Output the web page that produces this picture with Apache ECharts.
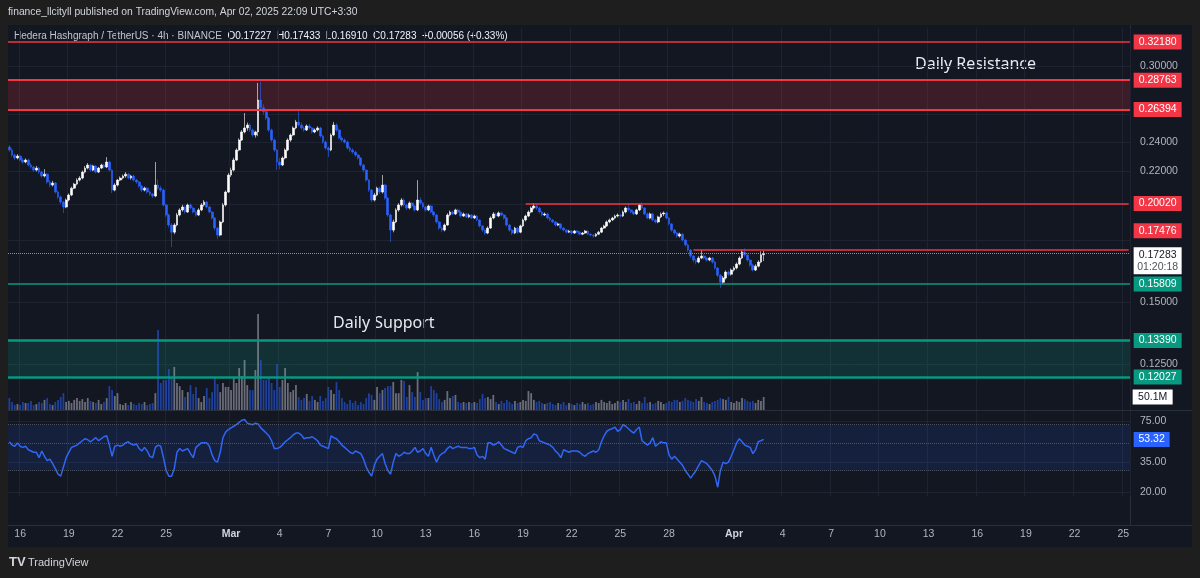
<!DOCTYPE html>
<html>
<head>
<meta charset="utf-8">
<script src="https://cdn.jsdelivr.net/npm/echarts@6.0.0/dist/echarts.min.js"></script>
<style>
  html, body { margin: 0; padding: 0; background: #1e1e1e; }
  #panel { position: absolute; left: 8px; top: 25px; width: 1184px; height: 522px; background: #131722; }
  #chart { position: absolute; left: 0; top: 0; width: 1200px; height: 578px; }
</style>
</head>
<body>
<div id="panel"></div>
<div id="chart"></div>
<script>
// HBAR/USDT 4h candles, Feb 15 07:30 -> Apr 2 19:30 (UTC+3:30)
const opens = [
  0.2364,0.2343,0.2309,0.2289,0.2302,0.2275,0.2262,0.2275,0.2242,0.2229,
  0.2209,0.2222,0.2196,0.2171,0.2183,0.2133,0.2114,0.2127,0.2071,0.2041,
  0.2011,0.1982,0.2023,0.2053,0.2095,0.2120,0.2145,0.2158,0.2196,0.2222,
  0.2242,0.2209,0.2235,0.2196,0.2222,0.2242,0.2229,0.2262,0.2209,0.2083,
  0.2114,0.2145,0.2158,0.2171,0.2183,0.2158,0.2171,0.2145,0.2133,0.2108,
  0.2083,0.2095,0.2071,0.2059,0.2047,0.2114,0.2095,0.2083,0.1994,0.1936,
  0.1880,0.1841,0.1880,0.1936,0.1965,0.1982,0.1953,0.1994,0.1976,0.1953,
  0.1936,0.1965,0.1994,0.2011,0.1982,0.1953,0.1919,0.1863,0.1825,0.1897,
  0.1994,0.2071,0.2177,0.2209,0.2275,0.2343,0.2413,0.2471,0.2500,0.2522,
  0.2485,0.2449,0.2471,0.2714,0.2654,0.2623,0.2575,0.2485,0.2413,0.2343,
  0.2262,0.2242,0.2289,0.2343,0.2413,0.2449,0.2500,0.2544,0.2522,0.2500,
  0.2485,0.2515,0.2500,0.2471,0.2485,0.2500,0.2442,0.2399,0.2357,0.2343,
  0.2449,0.2522,0.2485,0.2427,0.2413,0.2399,0.2357,0.2343,0.2329,0.2309,
  0.2289,0.2242,0.2209,0.2145,0.2083,0.2023,0.2053,0.2095,0.2071,0.2114,
  0.2035,0.1936,0.1852,0.1897,0.1965,0.1994,0.2023,0.1994,0.1976,0.2005,
  0.1988,0.1965,0.2023,0.2005,0.1982,0.1965,0.1988,0.1953,0.1936,0.1897,
  0.1863,0.1852,0.1880,0.1936,0.1953,0.1942,0.1965,0.1953,0.1930,0.1942,
  0.1925,0.1936,0.1919,0.1930,0.1908,0.1875,0.1852,0.1836,0.1863,0.1919,
  0.1942,0.1930,0.1948,0.1936,0.1919,0.1880,0.1852,0.1836,0.1863,0.1841,
  0.1875,0.1908,0.1930,0.1953,0.1976,0.1988,0.1976,0.1953,0.1936,0.1942,
  0.1919,0.1908,0.1897,0.1880,0.1886,0.1863,0.1852,0.1841,0.1847,0.1836,
  0.1847,0.1841,0.1830,0.1836,0.1847,0.1830,0.1825,0.1820,0.1830,0.1841,
  0.1863,0.1875,0.1897,0.1908,0.1919,0.1930,0.1936,0.1930,0.1953,0.1976,
  0.1965,0.1953,0.1942,0.1965,0.1994,0.1976,0.1942,0.1919,0.1942,0.1908,
  0.1897,0.1925,0.1942,0.1948,0.1919,0.1886,0.1852,0.1836,0.1820,0.1830,
  0.1799,0.1773,0.1747,0.1716,0.1696,0.1686,0.1706,0.1716,0.1706,0.1696,
  0.1706,0.1686,0.1657,0.1622,0.1589,0.1609,0.1637,0.1627,0.1647,0.1657,
  0.1676,0.1706,0.1737,0.1721,0.1696,0.1671,0.1647,0.1666,0.1686,0.1723
];
const closes = [
  0.2343,0.2309,0.2289,0.2302,0.2275,0.2262,0.2275,0.2242,0.2229,0.2209,
  0.2222,0.2196,0.2171,0.2183,0.2133,0.2114,0.2127,0.2071,0.2041,0.2011,
  0.1982,0.2023,0.2053,0.2095,0.2120,0.2145,0.2158,0.2196,0.2222,0.2242,
  0.2209,0.2235,0.2196,0.2222,0.2242,0.2229,0.2262,0.2209,0.2083,0.2114,
  0.2145,0.2158,0.2171,0.2183,0.2158,0.2171,0.2145,0.2133,0.2108,0.2083,
  0.2095,0.2071,0.2059,0.2047,0.2114,0.2095,0.2083,0.1994,0.1936,0.1880,
  0.1841,0.1880,0.1936,0.1965,0.1982,0.1953,0.1994,0.1976,0.1953,0.1936,
  0.1965,0.1994,0.2011,0.1982,0.1953,0.1919,0.1863,0.1825,0.1897,0.1994,
  0.2071,0.2177,0.2209,0.2275,0.2343,0.2413,0.2471,0.2500,0.2522,0.2485,
  0.2449,0.2471,0.2714,0.2654,0.2623,0.2575,0.2485,0.2413,0.2343,0.2262,
  0.2242,0.2289,0.2343,0.2413,0.2449,0.2500,0.2544,0.2522,0.2500,0.2485,
  0.2515,0.2500,0.2471,0.2485,0.2500,0.2442,0.2399,0.2357,0.2343,0.2449,
  0.2522,0.2485,0.2427,0.2413,0.2399,0.2357,0.2343,0.2329,0.2309,0.2289,
  0.2242,0.2209,0.2145,0.2083,0.2023,0.2053,0.2095,0.2071,0.2114,0.2035,
  0.1936,0.1852,0.1897,0.1965,0.1994,0.2023,0.1994,0.1976,0.2005,0.1988,
  0.1965,0.2023,0.2005,0.1982,0.1965,0.1988,0.1953,0.1936,0.1897,0.1863,
  0.1852,0.1880,0.1936,0.1953,0.1942,0.1965,0.1953,0.1930,0.1942,0.1925,
  0.1936,0.1919,0.1930,0.1908,0.1875,0.1852,0.1836,0.1863,0.1919,0.1942,
  0.1930,0.1948,0.1936,0.1919,0.1880,0.1852,0.1836,0.1863,0.1841,0.1875,
  0.1908,0.1930,0.1953,0.1976,0.1988,0.1976,0.1953,0.1936,0.1942,0.1919,
  0.1908,0.1897,0.1880,0.1886,0.1863,0.1852,0.1841,0.1847,0.1836,0.1847,
  0.1841,0.1830,0.1836,0.1847,0.1830,0.1825,0.1820,0.1830,0.1841,0.1863,
  0.1875,0.1897,0.1908,0.1919,0.1930,0.1936,0.1930,0.1953,0.1976,0.1965,
  0.1953,0.1942,0.1965,0.1994,0.1976,0.1942,0.1919,0.1942,0.1908,0.1897,
  0.1925,0.1942,0.1948,0.1919,0.1886,0.1852,0.1836,0.1820,0.1830,0.1799,
  0.1773,0.1747,0.1716,0.1696,0.1686,0.1706,0.1716,0.1706,0.1696,0.1706,
  0.1686,0.1657,0.1622,0.1589,0.1609,0.1637,0.1627,0.1647,0.1657,0.1676,
  0.1706,0.1737,0.1721,0.1696,0.1671,0.1647,0.1666,0.1686,0.1723,0.17283
];
const lows = [
  0.2330,0.2298,0.2276,0.2280,0.2266,0.2250,0.2254,0.2233,0.2218,0.2198,
  0.2200,0.2185,0.2160,0.2162,0.2122,0.2100,0.2105,0.2062,0.2030,0.1998,
  0.1947,0.1975,0.2015,0.2046,0.2088,0.2112,0.2136,0.2150,0.2188,0.2214,
  0.2200,0.2202,0.2188,0.2190,0.2215,0.2220,0.2222,0.2200,0.2065,0.2075,
  0.2105,0.2138,0.2150,0.2160,0.2150,0.2148,0.2136,0.2122,0.2098,0.2070,
  0.2075,0.2062,0.2048,0.2035,0.2040,0.2085,0.2070,0.1985,0.1925,0.1866,
  0.1762,0.1830,0.1872,0.1928,0.1955,0.1945,0.1948,0.1968,0.1945,0.1926,
  0.1930,0.1958,0.1985,0.1975,0.1945,0.1910,0.1850,0.1805,0.1818,0.1890,
  0.1985,0.2065,0.2165,0.2200,0.2268,0.2335,0.2405,0.2460,0.2480,0.2470,
  0.2436,0.2430,0.2440,0.2630,0.2600,0.2560,0.2470,0.2400,0.2330,0.2209,
  0.2215,0.2235,0.2280,0.2335,0.2400,0.2440,0.2490,0.2510,0.2488,0.2472,
  0.2478,0.2490,0.2460,0.2462,0.2475,0.2430,0.2388,0.2345,0.2295,0.2335,
  0.2440,0.2470,0.2418,0.2400,0.2388,0.2345,0.2330,0.2318,0.2296,0.2278,
  0.2232,0.2196,0.2135,0.2072,0.2010,0.2015,0.2045,0.2060,0.2062,0.2025,
  0.1925,0.1788,0.1840,0.1890,0.1955,0.1985,0.1985,0.1965,0.1968,0.1978,
  0.1955,0.1958,0.1995,0.1972,0.1955,0.1958,0.1945,0.1925,0.1888,0.1852,
  0.1840,0.1845,0.1875,0.1928,0.1935,0.1936,0.1946,0.1922,0.1925,0.1918,
  0.1918,0.1912,0.1913,0.1900,0.1866,0.1842,0.1826,0.1830,0.1858,0.1912,
  0.1922,0.1924,0.1928,0.1910,0.1872,0.1843,0.1826,0.1830,0.1832,0.1835,
  0.1868,0.1900,0.1924,0.1946,0.1968,0.1965,0.1945,0.1928,0.1930,0.1912,
  0.1900,0.1890,0.1872,0.1874,0.1855,0.1845,0.1834,0.1836,0.1829,0.1831,
  0.1835,0.1824,0.1825,0.1831,0.1824,0.1818,0.1810,0.1815,0.1825,0.1836,
  0.1858,0.1870,0.1890,0.1902,0.1912,0.1922,0.1922,0.1925,0.1946,0.1955,
  0.1945,0.1935,0.1936,0.1958,0.1968,0.1935,0.1912,0.1912,0.1900,0.1889,
  0.1890,0.1918,0.1930,0.1912,0.1878,0.1843,0.1826,0.1810,0.1812,0.1790,
  0.1764,0.1738,0.1705,0.1684,0.1675,0.1680,0.1700,0.1698,0.1688,0.1690,
  0.1678,0.1650,0.1612,0.1562,0.1580,0.1602,0.1618,0.1620,0.1640,0.1650,
  0.1670,0.1700,0.1712,0.1688,0.1662,0.1640,0.1642,0.1660,0.1680,0.16910
];
const highs = [
  0.2378,0.2356,0.2318,0.2315,0.2311,0.2290,0.2286,0.2284,0.2255,0.2238,
  0.2236,0.2230,0.2205,0.2215,0.2190,0.2145,0.2140,0.2133,0.2080,0.2050,
  0.2018,0.2032,0.2062,0.2104,0.2128,0.2156,0.2170,0.2206,0.2236,0.2255,
  0.2250,0.2244,0.2242,0.2230,0.2251,0.2250,0.2295,0.2270,0.2215,0.2125,
  0.2152,0.2168,0.2180,0.2196,0.2190,0.2178,0.2180,0.2154,0.2140,0.2115,
  0.2104,0.2102,0.2080,0.2066,0.2262,0.2150,0.2110,0.2092,0.2002,0.1945,
  0.1890,0.1890,0.1948,0.1975,0.1995,0.1990,0.2002,0.2003,0.1985,0.1962,
  0.1975,0.2005,0.2023,0.2018,0.1990,0.1960,0.1925,0.1870,0.1905,0.2005,
  0.2080,0.2190,0.2225,0.2290,0.2355,0.2425,0.2485,0.2612,0.2540,0.2535,
  0.2495,0.2480,0.2853,0.2865,0.2680,0.2640,0.2585,0.2495,0.2425,0.2350,
  0.2290,0.2300,0.2355,0.2425,0.2460,0.2512,0.2560,0.2639,0.2540,0.2512,
  0.2526,0.2530,0.2508,0.2496,0.2512,0.2508,0.2450,0.2410,0.2368,0.2460,
  0.2545,0.2535,0.2495,0.2440,0.2425,0.2408,0.2370,0.2355,0.2338,0.2318,
  0.2296,0.2250,0.2215,0.2152,0.2090,0.2066,0.2104,0.2105,0.2177,0.2120,
  0.2040,0.1945,0.1910,0.1975,0.2005,0.2035,0.2032,0.2002,0.2015,0.2012,
  0.1995,0.2145,0.2040,0.2012,0.1990,0.1996,0.1995,0.1960,0.1942,0.1905,
  0.1872,0.1888,0.1946,0.1962,0.1960,0.1972,0.1972,0.1958,0.1950,0.1948,
  0.1944,0.1942,0.1938,0.1935,0.1912,0.1880,0.1860,0.1872,0.1928,0.1952,
  0.1950,0.1956,0.1955,0.1942,0.1925,0.1886,0.1858,0.1870,0.1868,0.1882,
  0.1915,0.1938,0.1962,0.1985,0.2005,0.1998,0.1982,0.1960,0.1950,0.1948,
  0.1925,0.1914,0.1903,0.1893,0.1890,0.1868,0.1858,0.1853,0.1852,0.1853,
  0.1852,0.1846,0.1842,0.1853,0.1851,0.1836,0.1832,0.1836,0.1848,0.1870,
  0.1882,0.1905,0.1916,0.1926,0.1938,0.1945,0.1942,0.1962,0.1985,0.2004,
  0.1972,0.1960,0.1972,0.2000,0.2010,0.1982,0.1950,0.1950,0.1948,0.1915,
  0.1932,0.1950,0.1956,0.1955,0.1925,0.1892,0.1858,0.1842,0.1838,0.1836,
  0.1805,0.1780,0.1752,0.1722,0.1702,0.1715,0.1747,0.1724,0.1712,0.1712,
  0.1712,0.1692,0.1662,0.1628,0.1618,0.1645,0.1645,0.1655,0.1665,0.1684,
  0.1715,0.1748,0.1755,0.1728,0.1702,0.1678,0.1675,0.1695,0.1740,0.17433
];
// volume in millions
const volumes = [
  46,31,19,23,19,31,27,27,35,19, 23,31,27,39,46,23,19,31,39,50,
  65,31,35,27,39,46,35,42,31,46, 35,31,27,39,23,31,46,92,77,54,
  65,23,19,27,19,31,23,19,27,23, 31,19,23,27,65,308,104,116,116,158,
  127,166,104,92,77,50,69,96,62,89, 46,31,54,85,46,69,123,100,69,104,
  89,89,77,123,104,162,131,193,96,77, 77,154,370,193,116,116,123,104,77,177,
  89,116,162,104,69,77,96,50,39,46, 62,35,54,39,31,54,35,46,89,77,
  62,108,77,46,31,23,39,27,35,19, 31,23,46,65,58,39,89,65,77,85,
  92,92,108,65,65,116,112,50,96,69, 50,146,69,39,46,46,92,77,65,42,
  31,39,73,46,54,58,31,27,31,27, 31,27,31,27,42,62,46,50,42,58,
  31,23,35,27,39,31,23,35,27,31, 39,35,73,65,39,31,35,27,23,27,
  31,23,19,27,23,31,19,27,23,19, 27,23,31,23,27,19,23,31,27,39,
  31,27,35,23,27,35,31,39,31,42, 27,31,23,35,27,50,27,31,23,27,
  35,31,23,27,35,31,39,39,31,35, 46,39,35,31,42,35,50,31,27,23,
  31,35,39,46,42,39,50,31,27,35, 31,46,42,35,31,35,27,39,35,50.1
];
const rsi = [
  51,48,47,50,47,46,47,44,43,42, 42,38,43,39,36,37,34,31,28,27,
  32,38,42,46,47,48,50,52,54,53, 51,53,55,52,54,56,57,48,39,47,
  48,47,48,50,51,49,48,49,45,43, 46,43,39,38,46,48,47,38,30,27,
  27,31,42,45,43,44,45,41,38,46, 48,50,50,50,47,40,36,35,42,55,
  61,64,66,68,70,73,76,77,72,71, 70,72,71,66,63,60,57,52,45,45,
  46,48,51,53,55,58,60,60,58,54, 55,55,56,54,52,48,47,46,45,57,
  55,54,51,48,46,44,42,41,43,42, 41,37,32,29,27,33,37,39,41,34,
  30,28,35,41,39,40,42,41,41,43, 46,42,43,45,41,39,46,40,35,39,
  41,42,45,47,45,46,47,46,46,46, 45,45,46,40,38,39,37,50,50,48,
  49,51,48,45,44,43,42,41,46,47, 46,52,54,55,59,58,52,51,50,49,
  48,46,43,41,38,44,43,42,43,43, 43,42,40,39,41,42,43,42,44,51,
  57,62,64,65,67,62,64,70,68,65, 62,60,64,67,52,50,48,50,55,47,
  49,51,50,50,40,37,39,37,35,33, 30,28,26,28,30,33,36,35,34,32,
  30,27,22,30,35,34,35,39,44,50, 54,51,48,47,46,41,44,51,52,53.32
];

const tickDates = ['02-16','02-19','02-22','02-25','03-01','03-04','03-07','03-10','03-13','03-16','03-19','03-22',
  '03-25','03-28','04-01','04-04','04-07','04-10','04-13','04-16','04-19','04-22','04-25'];
const tickLabels = ['16','19','22','25','Mar','4','7','10','13','16','19','22',
  '25','28','Apr','4','7','10','13','16','19','22','25'];

const priceTicks = [0.30, 0.24, 0.22, 0.15, 0.125];
const priceGrid = [0.30, 0.26, 0.24, 0.22, 0.20, 0.18, 0.15, 0.125];
const rsiTicks = [75, 35, 20];

const resistance = [0.32180, 0.28763, 0.26394];
const support = [0.15809, 0.13390, 0.12027];
// [level, first candle of the line]
const shortLevels = [[0.20020, '03-19 03:30'], [0.17476, '03-29 11:30']];
const lastPrice = 0.17283;

// category slots: 4h candles plus empty space to the right
const startTime = Date.UTC(2025, 1, 15, 7, 30);
const H4 = 4 * 3600 * 1000;
const slotCount = 415;
const cats = [];
for (let i = 0; i < slotCount; i++) {
  cats.push(new Date(startTime + i * H4).toISOString().slice(5, 16).replace('T', ' '));
}
const lastCat = cats[slotCount - 1];
const tickAt = {};
tickDates.forEach((md, k) => {
  const [m, d] = md.split('-').map(Number);
  tickAt[Math.floor((Date.UTC(2025, m - 1, d) - startTime) / H4)] = tickLabels[k];
});
const isTick = (i) => tickAt[i] !== undefined;

const font = "'Liberation Sans', Arial, sans-serif";
const red = '#f23645';
const green = '#089981';
const gridColor = '#1f2331';
const axisText = '#b2b5be';
const upColor = '#ffffff';
const downColor = '#2962ff';

function tag(value, color, dy, text) {
  return {
    coord: [lastCat, value],
    symbol: 'rect',
    symbolSize: [48, 15],
    symbolOffset: [29, dy || 0],
    itemStyle: { color: color },
    label: {
      show: true, position: 'inside', formatter: text || value.toFixed(5),
      color: '#ffffff', fontSize: 10.5, fontFamily: font
    }
  };
}

const lineMarks = [];
resistance.forEach((v, k) => lineMarks.push({ yAxis: v, lineStyle: { color: red, width: k ? 2 : 1.5, type: 'solid' } }));
shortLevels.forEach(([v, from]) => lineMarks.push([
  { coord: [from, v], lineStyle: { color: red, width: 1.5, type: 'solid' } },
  { coord: [lastCat, v] }
]));
support.forEach((v, k) => lineMarks.push({ yAxis: v, lineStyle: { color: green, width: k ? 2.5 : 1.5, type: 'solid' } }));
lineMarks.push({ yAxis: lastPrice, lineStyle: { color: 'rgba(178,181,190,0.75)', width: 1, type: 'dotted' } });

const chart = echarts.init(document.getElementById('chart'), null, { renderer: 'canvas' });

chart.setOption({
  animation: false,
  backgroundColor: 'transparent',
  textStyle: { fontFamily: font },
  grid: [
    { left: 8, top: 28, width: 1122, height: 382 },
    { left: 8, top: 314, width: 1122, height: 96 },
    { left: 8, top: 411, width: 1122, height: 85 }
  ],
  xAxis: [0, 1, 2].map((g) => ({
    type: 'category',
    gridIndex: g,
    data: cats,
    boundaryGap: true,
    axisLine: { show: false },
    axisTick: { show: false },
    axisLabel: g === 2 ? {
      show: true,
      interval: isTick,
      formatter: (v, i) => (/^[A-Z]/.test(tickAt[i]) ? '{m|' + tickAt[i] + '}' : tickAt[i]),
      margin: 33,
      color: axisText,
      fontSize: 10.5,
      rich: { m: { color: '#d1d4dc', fontWeight: 'bold', fontSize: 10.5 } }
    } : { show: false },
    splitLine: { show: g !== 1, interval: isTick, lineStyle: { color: gridColor, width: 1 } }
  })),
  yAxis: [
    {
      type: 'log', gridIndex: 0, position: 'right',
      min: 0.10918, max: 0.33534,
      axisLine: { show: false },
      axisTick: { show: false, customValues: priceGrid },
      axisLabel: { customValues: priceTicks, formatter: (v) => v.toFixed(5), color: axisText, fontSize: 10.5, margin: 10 },
      splitLine: { show: true, lineStyle: { color: gridColor } }
    },
    { type: 'value', gridIndex: 1, min: 0, max: 370, show: false },
    {
      type: 'log', gridIndex: 2, position: 'right',
      min: 18.7, max: 90.2,
      axisLine: { show: false },
      axisTick: { show: false, customValues: rsiTicks },
      axisLabel: { customValues: rsiTicks, formatter: (v) => v.toFixed(2), color: axisText, fontSize: 10.5, margin: 10 },
      splitLine: { show: true, lineStyle: { color: gridColor } }
    }
  ],
  series: [
    {
      name: 'HBARUSDT',
      type: 'candlestick',
      xAxisIndex: 0, yAxisIndex: 0,
      clip: false,
      barWidth: 2.3,
      data: closes.map((c, i) => [opens[i], c, lows[i], highs[i]]),
      itemStyle: { color: upColor, color0: downColor, borderColor: upColor, borderColor0: downColor, borderWidth: 0.6 },
      markArea: {
        silent: true,
        data: [
          [{ yAxis: resistance[2], itemStyle: { color: 'rgba(242,54,69,0.18)' } }, { yAxis: resistance[1] }],
          [{ yAxis: support[2], itemStyle: { color: 'rgba(8,153,129,0.2)' } }, { yAxis: support[1] }]
        ]
      },
      markLine: { silent: true, precision: 6, symbol: ['none', 'none'], label: { show: false }, data: lineMarks },
      markPoint: {
        silent: true,
        data: [
          tag(resistance[0], red), tag(resistance[1], red), tag(resistance[2], red),
          tag(shortLevels[0][0], red), tag(shortLevels[1][0], red, -19),
          tag(support[0], green), tag(support[1], green), tag(support[2], green),
          {
            coord: [lastCat, lastPrice],
            symbol: 'rect', symbolSize: [48, 27], symbolOffset: [29, 7],
            itemStyle: { color: '#ffffff' },
            label: {
              show: true, position: 'inside',
              formatter: '{p|' + lastPrice.toFixed(5) + '}\n{t|01:20:18}',
              rich: {
                p: { color: '#131722', fontSize: 10.5, lineHeight: 12, fontFamily: font },
                t: { color: '#50535e', fontSize: 10.5, lineHeight: 12, fontFamily: font }
              }
            }
          }
        ]
      }
    },
    {
      name: 'Volume',
      type: 'bar',
      xAxisIndex: 1, yAxisIndex: 1,
      barWidth: 1.8,
      data: volumes,
      itemStyle: {
        color: (p) => (closes[p.dataIndex] >= opens[p.dataIndex] ? 'rgba(178,181,190,0.55)' : 'rgba(41,98,255,0.55)')
      },
      markPoint: {
        silent: true,
        data: [{
          coord: [lastCat, volumes[volumes.length - 1]],
          symbol: 'rect', symbolSize: [40, 15], symbolOffset: [24, 0],
          itemStyle: { color: '#ffffff' },
          label: { show: true, position: 'inside', formatter: volumes[volumes.length - 1] + 'M', color: '#131722', fontSize: 10.5, fontFamily: font }
        }]
      }
    },
    {
      name: 'RSI',
      type: 'line',
      xAxisIndex: 2, yAxisIndex: 2,
      clip: false,
      data: rsi,
      symbol: 'none',
      lineStyle: { color: '#2f66f6', width: 1.5 },
      markArea: {
        silent: true,
        data: [[{ yAxis: 30, itemStyle: { color: 'rgba(41,98,255,0.12)' } }, { yAxis: 70 }]]
      },
      markLine: {
        silent: true, precision: 2, symbol: ['none', 'none'], label: { show: false },
        lineStyle: { color: 'rgba(120,123,134,0.55)', type: 'dotted', width: 1 },
        data: [{ yAxis: 70 }, { yAxis: 50 }, { yAxis: 30 }]
      },
      markPoint: {
        silent: true,
        data: [{
          coord: [lastCat, rsi[rsi.length - 1]],
          symbol: 'rect', symbolSize: [36, 15], symbolOffset: [23, 0],
          itemStyle: { color: '#2962ff' },
          label: { show: true, position: 'inside', formatter: rsi[rsi.length - 1].toFixed(2), color: '#ffffff', fontSize: 10.5, fontFamily: font }
        }]
      }
    }
  ],
  graphic: [
    { type: 'line', silent: true, shape: { x1: 8, y1: 410.5, x2: 1192, y2: 410.5 }, style: { stroke: '#2a2e39', lineWidth: 1 } },
    { type: 'line', silent: true, shape: { x1: 8, y1: 525.5, x2: 1192, y2: 525.5 }, style: { stroke: '#2a2e39', lineWidth: 1 } },
    { type: 'line', silent: true, shape: { x1: 1130.5, y1: 25, x2: 1130.5, y2: 525 }, style: { stroke: '#2a2e39', lineWidth: 1 } },
    {
      type: 'text', left: 8, top: 7, silent: true,
      style: { text: 'finance_llcityll published on TradingView.com, Apr 02, 2025 22:09 UTC+3:30', fill: '#d1d4dc', fontSize: 10.3, fontFamily: font }
    },
    {
      type: 'text', left: 14, top: 31, silent: true,
      style: {
        text: '{n|Hedera Hashgraph / TetherUS · 4h · BINANCE}  {v|O0.17227}  {v|H0.17433}  {v|L0.16910}  {v|C0.17283}  {v|+0.00056 (+0.33%)}',
        fontSize: 10, fontFamily: font,
        rich: {
          n: { fill: '#c3c6ce', fontSize: 10, fontFamily: font },
          v: { fill: '#f0f3fa', fontSize: 10, fontFamily: font }
        }
      }
    },
    {
      type: 'text', left: 915, top: 56, silent: true,
      style: { text: 'Daily Resistance', fill: '#e8eaf0', fontSize: 16, fontFamily: "'Noto Sans', sans-serif" }
    },
    {
      type: 'text', left: 333, top: 315, silent: true,
      style: { text: 'Daily Support', fill: '#e8eaf0', fontSize: 16, fontFamily: "'Noto Sans', sans-serif" }
    },
    {
      type: 'text', left: 9, top: 556, silent: true,
      style: { text: 'TV', fill: '#d1d4dc', fontSize: 13, fontWeight: 'bold', fontFamily: font }
    },
    {
      type: 'text', left: 28, top: 557, silent: true,
      style: { text: 'TradingView', fill: '#d1d4dc', fontSize: 11, fontFamily: font }
    }
  ]
});
</script>
</body>
</html>
